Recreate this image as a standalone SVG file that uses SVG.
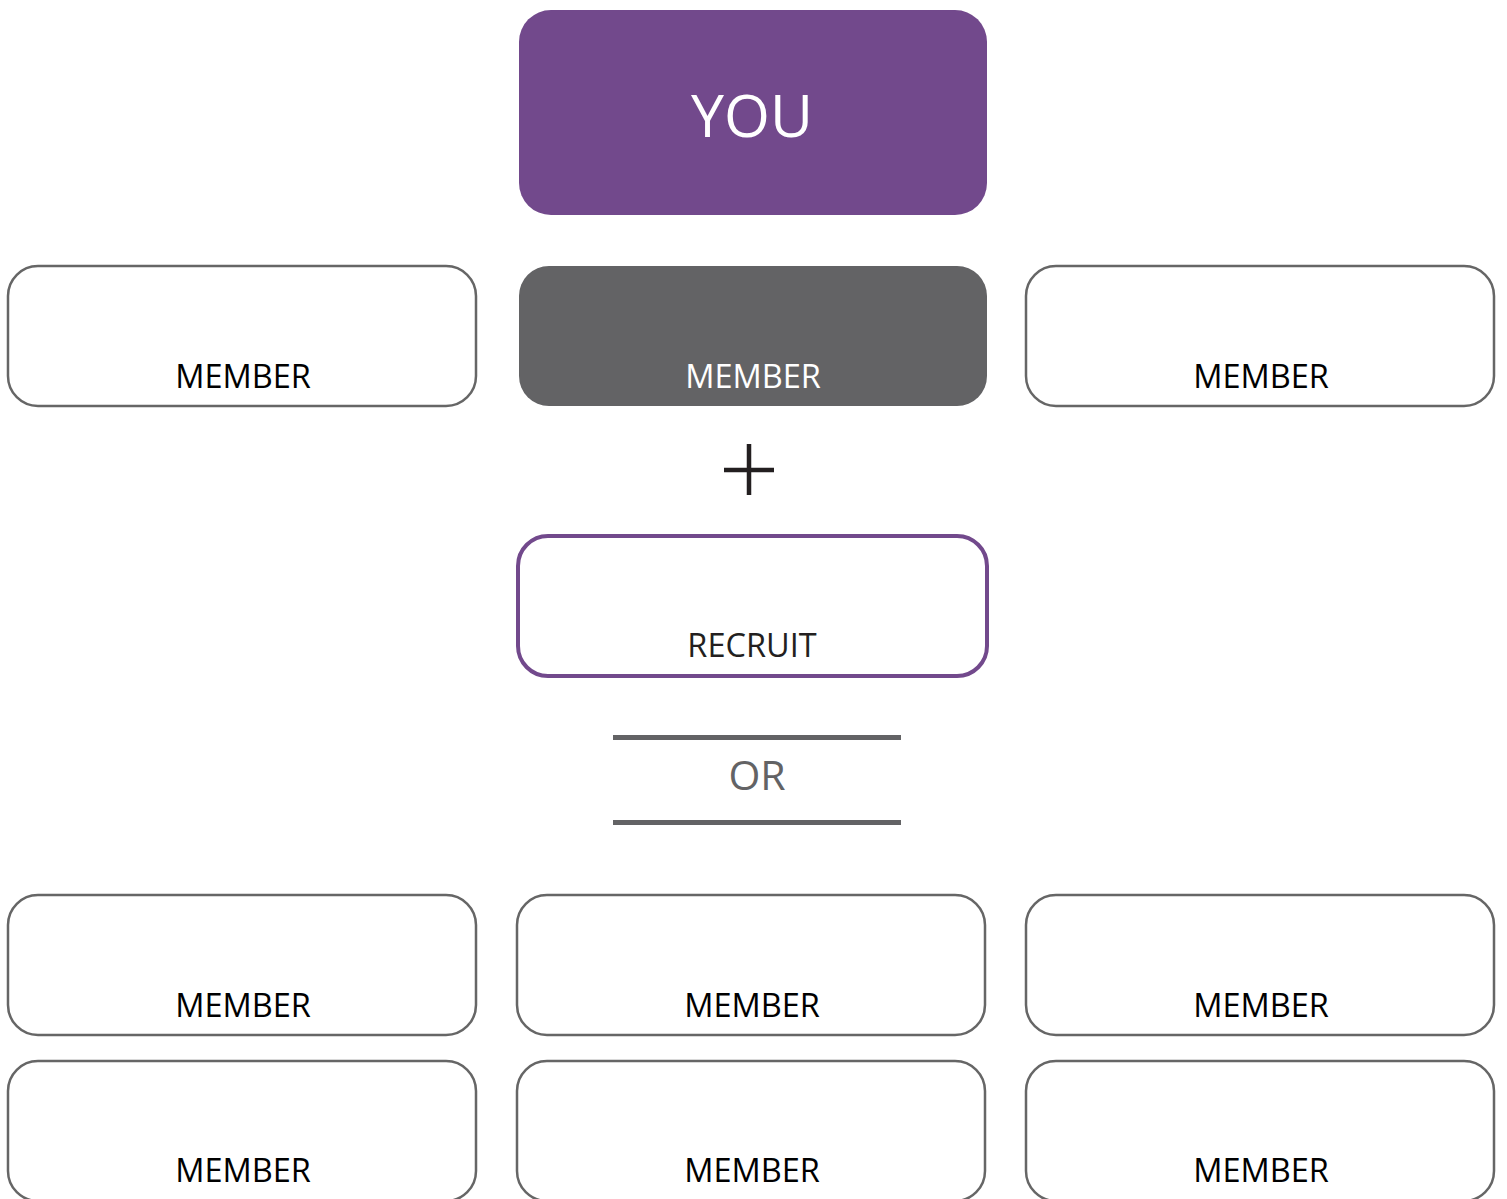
<svg xmlns="http://www.w3.org/2000/svg" width="1507" height="1199" viewBox="0 0 1507 1199">
<style>
.box{fill:#fff;stroke:#666;stroke-width:2.5}
.lbl{font-family:"Open Sans","Liberation Sans",sans-serif;font-size:32.5px;fill:#000;text-anchor:middle}
</style>
<rect width="1507" height="1199" fill="#fff"/>
<g id="you">
<rect x="519" y="10" width="468" height="205" rx="32" fill="#72498C"/>
<text x="752" y="137" font-family="'Open Sans','Liberation Sans',sans-serif" font-size="59" fill="#fff" text-anchor="middle">YOU</text>
</g>
<g id="member-r1-left"><rect class="box" x="8" y="266" width="468" height="140" rx="30"/><text class="lbl" x="243" y="388">MEMBER</text></g>
<g id="member-r1-mid"><rect x="519" y="266" width="468" height="140" rx="30" fill="#636365"/><text class="lbl" x="753" y="388" style="fill:#fff">MEMBER</text></g>
<g id="member-r1-right"><rect class="box" x="1026" y="266" width="468" height="140" rx="30"/><text class="lbl" x="1261" y="388">MEMBER</text></g>
<g id="plus"><path d="M749 444V495M724 470H774" stroke="#231F20" stroke-width="4.5" fill="none"/></g>
<g id="recruit"><rect x="518" y="536" width="469" height="140" rx="30" fill="#fff" stroke="#72498C" stroke-width="4"/><text class="lbl" x="752" y="657" style="fill:#231F20">RECRUIT</text></g>
<g id="or">
<path d="M613 737.5H901M613 822.5H901" stroke="#636365" stroke-width="5"/>
<text x="757" y="790" font-family="'Open Sans','Liberation Sans',sans-serif" font-size="41" fill="#636365" text-anchor="middle">OR</text>
</g>
<g id="member-r2-left"><rect class="box" x="8" y="895" width="468" height="140" rx="30"/><text class="lbl" x="243" y="1017">MEMBER</text></g>
<g id="member-r2-mid"><rect class="box" x="517" y="895" width="468" height="140" rx="30"/><text class="lbl" x="752" y="1017">MEMBER</text></g>
<g id="member-r2-right"><rect class="box" x="1026" y="895" width="468" height="140" rx="30"/><text class="lbl" x="1261" y="1017">MEMBER</text></g>
<g id="member-r3-left"><rect class="box" x="8" y="1061" width="468" height="140" rx="30"/><text class="lbl" x="243" y="1182">MEMBER</text></g>
<g id="member-r3-mid"><rect class="box" x="517" y="1061" width="468" height="140" rx="30"/><text class="lbl" x="752" y="1182">MEMBER</text></g>
<g id="member-r3-right"><rect class="box" x="1026" y="1061" width="468" height="140" rx="30"/><text class="lbl" x="1261" y="1182">MEMBER</text></g>
<g id="connectors"></g>
</svg>
